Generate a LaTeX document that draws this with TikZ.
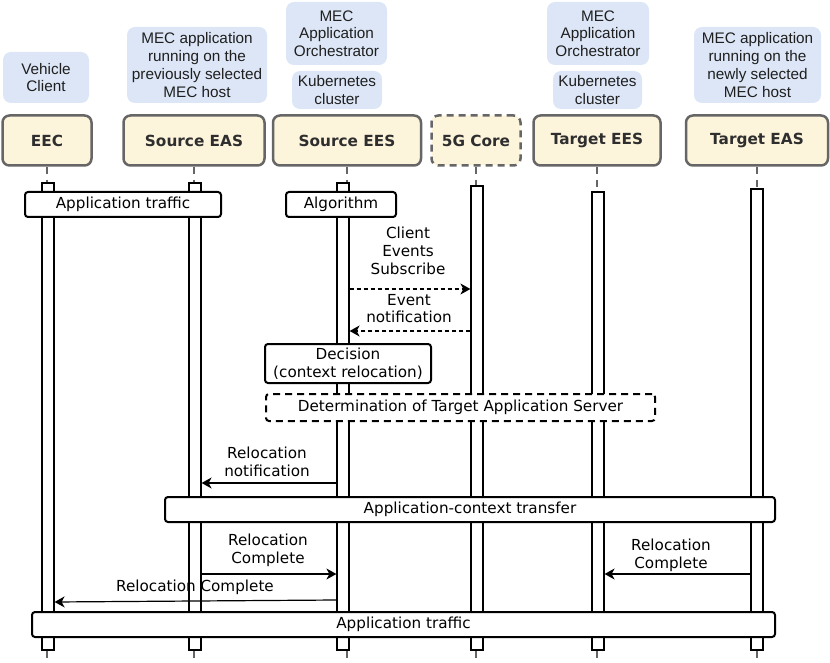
\documentclass[tikz,border=0pt]{standalone}
\usepackage{fontspec}
\setmainfont{DejaVu Sans}
\newfontfamily\annofont{Liberation Sans}
\usetikzlibrary{arrows.meta}
\definecolor{hdrfill}{HTML}{FDF4DC}
\definecolor{hdrborder}{HTML}{666666}
\definecolor{hdrtext}{HTML}{2E2E2E}
\definecolor{annofill}{HTML}{DCE6F6}
\tikzset{
  hdr/.style={draw=hdrborder, line width=2.5pt, fill=hdrfill, rounded corners=7pt, inner sep=0pt,
    font=\fontsize{15.3}{17}\selectfont\bfseries, text=hdrtext},
  anno/.style={fill=annofill, rounded corners=8pt, inner sep=0pt, align=center,
    font=\annofont\fontsize{15.3}{17.7}\selectfont, text=black!88},
  actbar/.style={draw=black, fill=white, line width=1.2pt, inner sep=0pt, minimum width=12pt},
  mbox/.style={draw=black, line width=2pt, fill=white, rounded corners=3pt, inner sep=0pt,
    align=center, font=\fontsize{15.2}{17.5}\selectfont},
  msg/.style={line width=1.2pt, -{Stealth[length=10pt,width=11pt,inset=3pt]}},
  lbl/.style={align=center, inner sep=0pt, font=\fontsize{15.2}{17.7}\selectfont},
  life/.style={draw=hdrborder, line width=2.5pt, dash pattern=on 7pt off 6pt}
}
\begin{document}
\begin{tikzpicture}[x=1pt,y=-1pt]
\useasboundingbox (0,0) rectangle (830,663);
\coordinate (bot) at (0,663);
% annotations
\node[anno, minimum width=86pt, minimum height=51pt] (nVC) at (46,77.5) {Vehicle\\Client};
\node[anno, minimum width=140pt, minimum height=76pt] (nPrev) at (197,65) {MEC application\\running on the\\previously selected\\MEC host};
\node[anno, minimum width=101pt, minimum height=63pt] (nOrchS) at (336.5,33.5) {MEC\\Application\\Orchestrator};
\node[anno, minimum width=90pt, minimum height=38pt] (nKubS) at (337,90) {Kubernetes\\cluster};
\node[anno, minimum width=102pt, minimum height=63pt] (nOrchT) at (598,33.5) {MEC\\Application\\Orchestrator};
\node[anno, minimum width=89pt, minimum height=38pt] (nKubT) at (597.5,90) {Kubernetes\\cluster};
\node[anno, minimum width=127pt, minimum height=76pt] (nNew) at (757.5,65) {MEC application\\running on the\\newly selected\\MEC host};
% headers
\node[hdr, minimum width=89pt, minimum height=50pt] (hEEC) at (47,140.5) {EEC};
\node[hdr, minimum width=141pt, minimum height=50pt] (hSEAS) at (194,140.5) {Source EAS};
\node[hdr, minimum width=148pt, minimum height=50pt] (hSEES) at (347,140.5) {Source EES};
\node[hdr, dashed, dash pattern=on 7pt off 5pt, minimum width=89pt, minimum height=50pt] (h5G) at (476,140.5) {5G Core};
\node[hdr, minimum width=127pt, minimum height=50pt] (hTEES) at (597,140.5) {Target EES};
\node[hdr, minimum width=142pt, minimum height=50pt] (hTEAS) at (757,140.5) {Target EAS};
% activation bars
\node[actbar, minimum height=467pt] (aEEC) at (48,416.5) {};
\node[actbar, minimum height=467pt] (aSEAS) at (195,416.5) {};
\node[actbar, minimum height=467pt] (aSEES) at (343,416.5) {};
\node[actbar, minimum height=464pt] (a5G) at (477,418) {};
\node[actbar, minimum height=458pt] (aTEES) at (598,421) {};
\node[actbar, minimum height=461pt] (aTEAS) at (757,419.5) {};
% lifelines
\foreach \h/\a in {hEEC/aEEC, hSEAS/aSEAS, hSEES/aSEES, h5G/a5G, hTEES/aTEES, hTEAS/aTEAS}{
  \draw[life] (\h.south) -- (\h.south |- \a.north);
  \draw[life] (\h.south |- \a.south) -- (\h.south |- bot);
}
% boxes
\node[mbox, minimum width=196pt, minimum height=25pt] (bTraf1) at (123,204.5) {Application traffic};
\node[mbox, minimum width=110pt, minimum height=25pt] (bAlg) at (341,204.5) {Algorithm};
% messages
\node[lbl] (lSub) at (408,251) {Client\\Events\\Subscribe};
\draw[msg, dashed, dash pattern=on 4pt off 3pt] (aSEES.east |- 0,289) -- (a5G.west |- 0,289);
\node[lbl] (lEvt) at (409,308.5) {Event\\notification};
\draw[msg, dashed, dash pattern=on 4pt off 3pt] (a5G.west |- 0,331) -- (aSEES.east |- 0,331);
\node[mbox, minimum width=166pt, minimum height=39pt, font=\fontsize{15.2}{18}\selectfont] (bDec) at (348,363.5) {Decision\\(context relocation)};
\node[mbox, dashed, dash pattern=on 7pt off 5pt, minimum width=389pt, minimum height=27pt] (bDet) at (460.5,407.5) {Determination of Target Application Server};
\node[lbl] (lRN) at (267,461.5) {Relocation\\notification};
\draw[msg] (aSEES.west |- 0,483) -- (aSEAS.east |- 0,483);
\node[mbox, minimum width=610pt, minimum height=25pt] (bCtx) at (470,509.5) {Application-context transfer};
\node[lbl] (lRC1) at (268,550.5) {Relocation\\Complete};
\draw[msg] (aSEAS.east |- 0,574) -- (aSEES.west |- 0,574);
\node[lbl] (lRC2) at (671,555.5) {Relocation\\Complete};
\draw[msg] (aTEAS.west |- 0,574) -- (aTEES.east |- 0,574);
\node[lbl] (lRC3) at (195,587) {Relocation Complete};
\draw[msg] (aSEES.west |- 0,600) -- (aEEC.east |- 0,602);
\node[mbox, minimum width=743pt, minimum height=25pt] (bTraf2) at (403.5,624.5) {Application traffic};
\end{tikzpicture}
\end{document}
